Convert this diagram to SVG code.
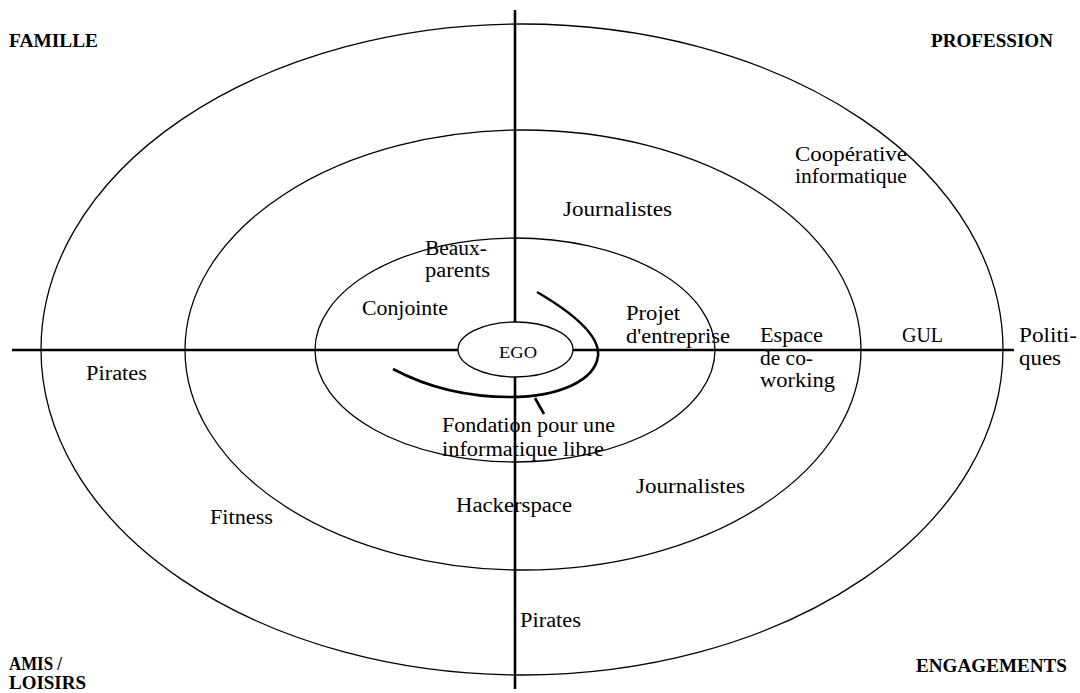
<svg xmlns="http://www.w3.org/2000/svg" width="1080" height="693" viewBox="0 0 1080 693">
<style>
.ring{fill:none;stroke:#000;stroke-width:1.3}
.axis{stroke:#000;stroke-width:2.6;fill:none}
.t{font-family:"Liberation Serif","Times New Roman",serif;font-size:20px;fill:#000}
.b{font-family:"Liberation Serif","Times New Roman",serif;font-size:19px;font-weight:bold;fill:#000}
</style>
<rect width="1080" height="693" fill="#fff"/>
<g id="rings">
<ellipse id="ring-outer" class="ring" cx="522" cy="349.5" rx="481" ry="325.5"/>
<ellipse id="ring-middle" class="ring" cx="523" cy="350" rx="338" ry="220"/>
<ellipse id="ring-inner" class="ring" cx="515" cy="350" rx="200" ry="112"/>
</g>
<g id="connectors">
<line class="axis" x1="515" y1="10" x2="515" y2="689"/>
<line class="axis" x1="12" y1="350" x2="1014" y2="350"/>
<path class="axis" d="M537,292 C578,316 600,338 598,356 C595,380 560,397 510,397 C465,397 425,386 393,369"/>
<line class="axis" x1="535" y1="398" x2="544" y2="414"/>
</g>
<g id="ego">
<ellipse cx="515.5" cy="349.5" rx="57.5" ry="27.5" fill="#fff" stroke="#000" stroke-width="1.3"/>
<text class="t" x="499" y="358" textLength="38" lengthAdjust="spacingAndGlyphs" style="font-size:17px">EGO</text>
</g>
<g id="quadrants">
<text class="b" x="9" y="47" textLength="89" lengthAdjust="spacingAndGlyphs">FAMILLE</text>
<text class="b" x="931" y="47" textLength="122" lengthAdjust="spacingAndGlyphs">PROFESSION</text>
<text class="b" x="9" y="670" textLength="53" lengthAdjust="spacingAndGlyphs">AMIS /</text>
<text class="b" x="9" y="689" textLength="77" lengthAdjust="spacingAndGlyphs">LOISIRS</text>
<text class="b" x="916" y="672" textLength="151" lengthAdjust="spacingAndGlyphs">ENGAGEMENTS</text>
</g>
<g id="n-cooperative">
<text class="t" x="795" y="161" textLength="112" lengthAdjust="spacingAndGlyphs">Coopérative</text>
<text class="t" x="795" y="183" textLength="112" lengthAdjust="spacingAndGlyphs">informatique</text>
</g>
<g id="n-journalistes-top"><text class="t" x="563" y="216" textLength="109" lengthAdjust="spacingAndGlyphs">Journalistes</text></g>
<g id="n-beaux-parents">
<text class="t" x="425" y="255" textLength="62" lengthAdjust="spacingAndGlyphs">Beaux-</text>
<text class="t" x="425" y="277" textLength="65" lengthAdjust="spacingAndGlyphs">parents</text>
</g>
<g id="n-conjointe"><text class="t" x="362" y="315" textLength="86" lengthAdjust="spacingAndGlyphs">Conjointe</text></g>
<g id="n-projet">
<text class="t" x="626" y="320" textLength="54" lengthAdjust="spacingAndGlyphs">Projet</text>
<text class="t" x="626" y="343" textLength="104" lengthAdjust="spacingAndGlyphs">d'entreprise</text>
</g>
<g id="n-coworking">
<text class="t" x="760" y="342" textLength="63" lengthAdjust="spacingAndGlyphs">Espace</text>
<text class="t" x="760" y="365" textLength="53" lengthAdjust="spacingAndGlyphs">de co-</text>
<text class="t" x="760" y="387" textLength="75" lengthAdjust="spacingAndGlyphs">working</text>
</g>
<g id="n-gul"><text class="t" x="902" y="342" textLength="41" lengthAdjust="spacingAndGlyphs">GUL</text></g>
<g id="n-politiques">
<text class="t" x="1019" y="342" textLength="58" lengthAdjust="spacingAndGlyphs">Politi-</text>
<text class="t" x="1019" y="365" textLength="42" lengthAdjust="spacingAndGlyphs">ques</text>
</g>
<g id="n-pirates-left"><text class="t" x="86" y="380" textLength="61" lengthAdjust="spacingAndGlyphs">Pirates</text></g>
<g id="n-fondation">
<text class="t" x="442" y="432" textLength="173" lengthAdjust="spacingAndGlyphs">Fondation pour une</text>
<text class="t" x="442" y="456" textLength="162" lengthAdjust="spacingAndGlyphs">informatique libre</text>
</g>
<g id="n-journalistes-bottom"><text class="t" x="636" y="493" textLength="109" lengthAdjust="spacingAndGlyphs">Journalistes</text></g>
<g id="n-hackerspace"><text class="t" x="456" y="512" textLength="116" lengthAdjust="spacingAndGlyphs">Hackerspace</text></g>
<g id="n-fitness"><text class="t" x="210" y="524" textLength="63" lengthAdjust="spacingAndGlyphs">Fitness</text></g>
<g id="n-pirates-bottom"><text class="t" x="520" y="627" textLength="61" lengthAdjust="spacingAndGlyphs">Pirates</text></g>
</svg>
